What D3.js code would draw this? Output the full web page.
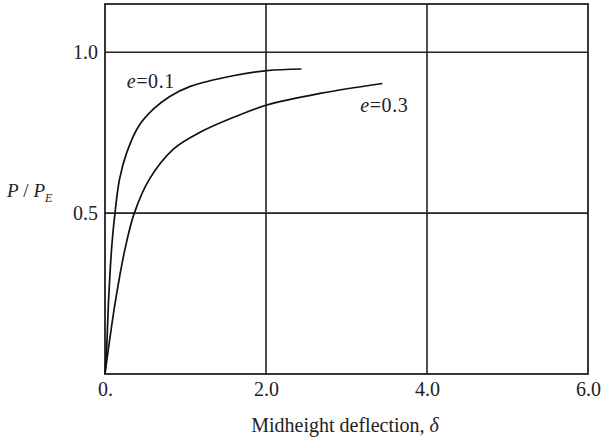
<!DOCTYPE html>
<html>
<head>
<meta charset="utf-8">
<script src="https://cdn.jsdelivr.net/npm/d3@7"></script>
<style>
  html, body { margin: 0; padding: 0; background: #fff; }
  svg text { font-family: "Liberation Serif", "Times New Roman", serif; fill: #222; }
</style>
</head>
<body>
<svg id="chart" width="604" height="440"></svg>
<script>
// Load–deflection curves for an eccentrically loaded column
const xTicks = [0, 2, 4, 6];
const xTickLabels = ["0.", "2.0", "4.0", "6.0"];
const yTicks = [0.5, 1.0];
const yTickLabels = ["0.5", "1.0"];

const deltaE01 = [0, 0.02, 0.045, 0.085, 0.124, 0.18, 0.27, 0.42, 0.60, 0.80, 1.06, 1.59, 2.01, 2.44];
const loadE01  = [0, 0.076, 0.232, 0.40, 0.50, 0.605, 0.688, 0.771, 0.823, 0.862, 0.894, 0.927, 0.943, 0.948];

const deltaE03 = [0, 0.06, 0.133, 0.248, 0.364, 0.55, 0.85, 1.18, 1.59, 2.01, 2.67, 3.445];
const loadE03  = [0, 0.11, 0.232, 0.388, 0.50, 0.605, 0.699, 0.751, 0.797, 0.836, 0.872, 0.903];

const curveNames = ["e=0.1", "e=0.3"];
const labelAt = [[0.27, 0.889], [3.17, 0.814]];

const svg = d3.select("#chart");
const x = d3.scaleLinear().domain([0, 6]).range([105, 588]);
const y = d3.scaleLinear().domain([0, 1.15]).range([374, 4]);

const ink = "#222";

// grid lines
svg.append("g").selectAll("line").data(xTicks.slice(1, -1)).join("line")
  .attr("x1", d => x(d)).attr("x2", d => x(d))
  .attr("y1", y(0)).attr("y2", y(1.15))
  .attr("stroke", ink).attr("stroke-width", 1.6);
svg.append("g").selectAll("line").data(yTicks).join("line")
  .attr("x1", x(0)).attr("x2", x(6))
  .attr("y1", d => y(d)).attr("y2", d => y(d))
  .attr("stroke", ink).attr("stroke-width", 1.6);

// frame
svg.append("rect")
  .attr("x", x(0)).attr("y", y(1.15))
  .attr("width", x(6) - x(0)).attr("height", y(0) - y(1.15))
  .attr("fill", "none").attr("stroke", ink).attr("stroke-width", 1.8);

// tick labels via d3 axes (tick marks hidden)
const xAxis = d3.axisBottom(x).tickValues(xTicks)
  .tickFormat((d, i) => xTickLabels[i]).tickSize(0).tickPadding(22);
const gx = svg.append("g").attr("transform", `translate(0,${y(0)})`).call(xAxis);
gx.select(".domain").remove();
gx.selectAll("text").attr("font-size", 20).attr("dy", 0)
  .attr("font-family", "Liberation Serif").attr("fill", ink);

const yAxis = d3.axisLeft(y).tickValues(yTicks)
  .tickFormat((d, i) => yTickLabels[i]).tickSize(0).tickPadding(7);
const gy = svg.append("g").attr("transform", `translate(${x(0)},0)`).call(yAxis);
gy.select(".domain").remove();
gy.selectAll("text").attr("font-size", 20).attr("dy", "0.3em")
  .attr("font-family", "Liberation Serif").attr("fill", ink);

// curves
const line = d3.line().x(d => x(d[0])).y(d => y(d[1])).curve(d3.curveCatmullRom.alpha(0.5));
const series = [d3.zip(deltaE01, loadE01), d3.zip(deltaE03, loadE03)];
svg.append("g").selectAll("path").data(series).join("path")
  .attr("d", line).attr("fill", "none")
  .attr("stroke", "#111").attr("stroke-width", 1.7);

// curve labels
svg.append("g").selectAll("text").data(curveNames).join("text")
  .attr("x", (d, i) => x(labelAt[i][0]))
  .attr("y", (d, i) => y(labelAt[i][1]))
  .attr("font-size", 20).attr("letter-spacing", 0.6)
  .each(function(d) {
    const t = d3.select(this);
    const [a, b] = d.split("=");
    t.append("tspan").attr("font-style", "italic").text(a);
    t.append("tspan").text("=" + b);
  });

// y axis title: P / P_E
const yt = svg.append("text").attr("x", 7).attr("y", 197).attr("font-size", 19);
yt.append("tspan").attr("font-style", "italic").text("P");
yt.append("tspan").text(" / ");
yt.append("tspan").attr("font-style", "italic").text("P");
yt.append("tspan").attr("font-style", "italic").attr("font-size", 12).attr("dy", 5).text("E");

// x axis title
const xt = svg.append("text").attr("x", 345).attr("y", 432)
  .attr("text-anchor", "middle").attr("font-size", 20);
xt.append("tspan").text("Midheight deflection, ");
xt.append("tspan").attr("font-style", "italic").text("δ");
</script>
</body>
</html>
